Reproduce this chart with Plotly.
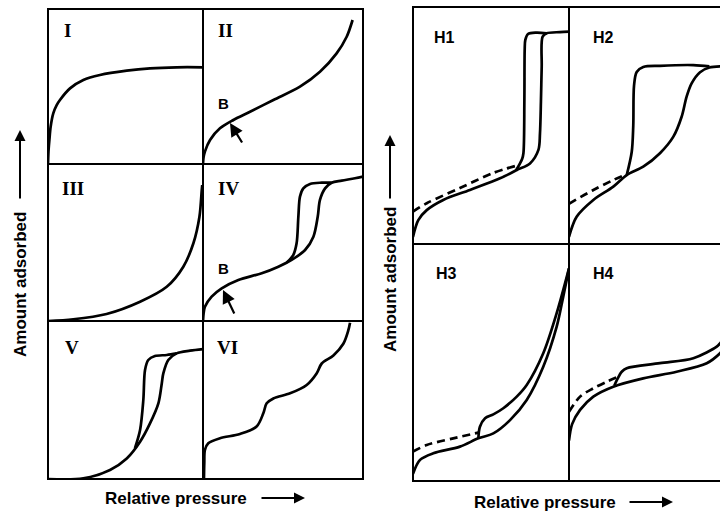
import plotly.graph_objects as go

# ---------------- data (panel-normalised: x = relative pressure, y = amount adsorbed) -------------
I_x = [0, 0.003, 0.009, 0.017, 0.034, 0.056, 0.077, 0.142, 0.228, 0.335, 0.508, 0.658, 0.83, 1.0]
I_y = [0, 0.08, 0.155, 0.24, 0.327, 0.38, 0.413, 0.488, 0.542, 0.574, 0.602, 0.617, 0.624, 0.624]

II_x = [0, 0.003, 0.012, 0.044, 0.106, 0.19, 0.294, 0.44, 0.606, 0.731, 0.835, 0.898, 0.935]
II_y = [0, 0.04, 0.08, 0.155, 0.23, 0.284, 0.337, 0.413, 0.499, 0.595, 0.714, 0.821, 0.929]

III_x = [0, 0.163, 0.378, 0.594, 0.766, 0.873, 0.938, 0.977, 0.992, 0.995]
III_y = [0, 0.011, 0.045, 0.123, 0.218, 0.346, 0.495, 0.664, 0.834, 0.866]

IV_ads_x = [0, 0.004, 0.012, 0.054, 0.117, 0.221, 0.367, 0.471, 0.554, 0.638, 0.69, 0.717, 0.731, 0.763, 0.804, 0.867, 0.95, 1.0]
IV_ads_y = [0, 0.05, 0.091, 0.155, 0.208, 0.261, 0.304, 0.346, 0.389, 0.452, 0.537, 0.664, 0.771, 0.845, 0.881, 0.894, 0.909, 0.92]
IV_des_x = [0.523, 0.564, 0.585, 0.596, 0.606, 0.627, 0.669, 0.742, 0.804]
IV_des_y = [0.373, 0.42, 0.495, 0.664, 0.792, 0.845, 0.873, 0.881, 0.881]

V_ads_x = [0, 0.228, 0.4, 0.508, 0.594, 0.658, 0.712, 0.734, 0.744, 0.776, 0.83, 0.916, 1.0]
V_ads_y = [0, 0.004, 0.057, 0.13, 0.236, 0.352, 0.479, 0.605, 0.668, 0.753, 0.795, 0.812, 0.822]
V_des_x = [0.561, 0.594, 0.615, 0.626, 0.647, 0.69, 0.766, 0.83]
V_des_y = [0.195, 0.31, 0.5, 0.69, 0.753, 0.778, 0.785, 0.795]

VI_x = [0.006, 0.008, 0.012, 0.033, 0.106, 0.231, 0.335, 0.377, 0.398, 0.44, 0.544, 0.648, 0.71, 0.742, 0.815, 0.877, 0.908, 0.919]
VI_y = [0, 0.1, 0.184, 0.226, 0.258, 0.285, 0.332, 0.416, 0.479, 0.51, 0.542, 0.595, 0.668, 0.731, 0.782, 0.856, 0.94, 0.989]

H1_ads_x = [0, 0.034, 0.088, 0.194, 0.365, 0.558, 0.665, 0.75, 0.804, 0.814, 0.82, 0.825, 0.831, 0.857, 0.942, 1.0]
H1_ads_y = [0.03, 0.101, 0.143, 0.186, 0.228, 0.277, 0.312, 0.34, 0.397, 0.467, 0.6, 0.748, 0.875, 0.889, 0.894, 0.896]
H1_des_x = [0.66, 0.7, 0.708, 0.714, 0.716, 0.72, 0.737, 0.79, 0.857]
H1_des_y = [0.31, 0.36, 0.384, 0.608, 0.82, 0.861, 0.886, 0.892, 0.889]
H1_dash_x = [0, 0.088, 0.301, 0.515, 0.66]
H1_dash_y = [0.137, 0.172, 0.236, 0.3, 0.33]

H2_ads_x = [0, 0.049, 0.156, 0.284, 0.37, 0.476, 0.583, 0.669, 0.722, 0.754, 0.786, 0.84, 0.9, 1.0]
H2_ads_y = [0.03, 0.115, 0.186, 0.242, 0.291, 0.326, 0.383, 0.453, 0.537, 0.622, 0.678, 0.725, 0.745, 0.75]
H2_des_x = [0.37, 0.402, 0.412, 0.417, 0.434, 0.476, 0.583, 0.797, 0.9]
H2_des_y = [0.291, 0.388, 0.5, 0.669, 0.726, 0.747, 0.752, 0.755, 0.75]
H2_dash_x = [0, 0.156, 0.284, 0.37]
H2_dash_y = [0.17, 0.228, 0.27, 0.295]

H3_ads_x = [0, 0.045, 0.13, 0.301, 0.419, 0.515, 0.622, 0.729, 0.835, 0.921, 0.963, 1.0]
H3_ads_y = [0.03, 0.089, 0.117, 0.145, 0.18, 0.201, 0.257, 0.342, 0.482, 0.651, 0.778, 0.897]
H3_des_x = [0.419, 0.429, 0.462, 0.515, 0.579, 0.665, 0.729, 0.835, 0.921, 1.0]
H3_des_y = [0.18, 0.229, 0.265, 0.281, 0.307, 0.356, 0.405, 0.539, 0.708, 0.897]
H3_dash_x = [0, 0.088, 0.258, 0.419]
H3_dash_y = [0.124, 0.152, 0.18, 0.204]

H4_ads_x = [0, 0.02, 0.071, 0.156, 0.284, 0.476, 0.69, 0.883, 0.968, 1.0]
H4_ads_y = [0.17, 0.24, 0.3, 0.356, 0.398, 0.433, 0.461, 0.497, 0.539, 0.565]
H4_des_x = [0.29, 0.31, 0.338, 0.37, 0.583, 0.797, 0.947, 0.968, 1.0]
H4_des_y = [0.402, 0.43, 0.461, 0.476, 0.497, 0.518, 0.567, 0.581, 0.61]
H4_dash_x = [0, 0.071, 0.156, 0.242, 0.316]
H4_dash_y = [0.292, 0.356, 0.391, 0.419, 0.44]

# ---------------- layout geometry (pixels) ----------------
W, H = 720, 514
# name: (left, right, top, bottom)
panels = {
    "I":   (48, 203, 9, 164),
    "II":  (203, 363, 9, 164),
    "III": (48, 203, 164, 321),
    "IV":  (203, 363, 164, 321),
    "V":   (48, 203, 321, 479),
    "VI":  (203, 363, 321, 479),
    "H1":  (413, 569, 7, 244),
    "H2":  (569, 725, 7, 244),
    "H3":  (413, 569, 244, 481),
    "H4":  (569, 725, 244, 481),
}
order = list(panels.keys())

fig = go.Figure()
layout = dict(width=W, height=H, margin=dict(l=0, r=0, t=0, b=0),
              plot_bgcolor="white", paper_bgcolor="white", showlegend=False,
              hovermode=False)
shapes = []
axid = {}
for i, name in enumerate(order, start=1):
    l, r, t, b = panels[name]
    rr = min(r, W)
    xr = [0, (rr - l) / (r - l)]
    sfx = "" if i == 1 else str(i)
    axid[name] = ("x" + sfx, "y" + sfx)
    common = dict(showgrid=False, zeroline=False, showticklabels=False, ticks="",
                  showline=False, fixedrange=True)
    layout["xaxis" + sfx] = dict(domain=[l / W, rr / W], range=xr, anchor="y" + sfx, **common)
    layout["yaxis" + sfx] = dict(domain=[1 - b / H, 1 - t / H], range=[0, 1], anchor="x" + sfx, **common)
    shapes.append(dict(type="rect", xref="x" + sfx + " domain", yref="y" + sfx + " domain",
                       x0=0, x1=(r - l) / (rr - l), y0=0, y1=1,
                       line=dict(color="black", width=2), layer="above"))
layout["shapes"] = shapes

LW = 2.7


def add(name, x, y, dash=None):
    xa, ya = axid[name]
    fig.add_trace(go.Scatter(x=x, y=y, mode="lines", xaxis=xa, yaxis=ya,
                             line=dict(color="black", width=LW, shape="spline", smoothing=0.9,
                                       dash=dash if dash else "solid"),
                             hoverinfo="skip"))


add("I", I_x, I_y)
add("II", II_x, II_y)
add("III", III_x, III_y)
add("IV", IV_ads_x, IV_ads_y)
add("IV", IV_des_x, IV_des_y)
add("V", V_ads_x, V_ads_y)
add("V", V_des_x, V_des_y)
add("VI", VI_x, VI_y)
DASH = "8px,5px"
add("H1", H1_ads_x, H1_ads_y)
add("H1", H1_des_x, H1_des_y)
add("H1", H1_dash_x, H1_dash_y, DASH)
add("H2", H2_ads_x, H2_ads_y)
add("H2", H2_des_x, H2_des_y)
add("H2", H2_dash_x, H2_dash_y, DASH)
add("H3", H3_ads_x, H3_ads_y)
add("H3", H3_des_x, H3_des_y)
add("H3", H3_dash_x, H3_dash_y, DASH)
add("H4", H4_ads_x, H4_ads_y)
add("H4", H4_des_x, H4_des_y)
add("H4", H4_dash_x, H4_dash_y, DASH)

SANS = "Liberation Sans, Arial, sans-serif"
SERIF = "Liberation Serif, Times New Roman, serif"
ann = []


def label(name, text, px, py, font, size, bold=True):
    xa, ya = axid[name]
    l, r, t, b = panels[name]
    txt = "<b>" + text + "</b>" if bold else text
    ann.append(dict(xref=xa, yref=ya, x=(px - l) / (r - l), y=(b - py) / (b - t), text=txt,
                    showarrow=False, font=dict(family=font, size=size, color="black"),
                    xanchor="center", yanchor="middle"))


# roman numerals
label("I", "I", 67, 30, SERIF, 19)
label("II", "II", 225, 30, SERIF, 19)
label("III", "III", 73, 188, SERIF, 19)
label("IV", "IV", 228, 188, SERIF, 19)
label("V", "V", 72, 347, SERIF, 19)
label("VI", "VI", 227, 347, SERIF, 19)
# H labels
label("H1", "H1", 444, 38, SANS, 16)
label("H2", "H2", 603, 38, SANS, 16)
label("H3", "H3", 446, 273, SANS, 16)
label("H4", "H4", 603, 273, SANS, 16)
# point B
label("II", "B", 223, 103, SANS, 15)
label("IV", "B", 223, 268, SANS, 15)


def arrow_px(name, tipx, tipy, tailx, taily):
    xa, ya = axid[name]
    l, r, t, b = panels[name]
    ann.append(dict(xref=xa, yref=ya, x=(tipx - l) / (r - l), y=(b - tipy) / (b - t),
                    ax=tailx - tipx, ay=taily - tipy, text="", showarrow=True,
                    arrowhead=2, arrowsize=1.2, arrowwidth=2.2, arrowcolor="black"))


arrow_px("II", 230, 123, 243, 144)
arrow_px("IV", 223, 290, 235, 315)

AX = dict(family=SANS, size=17, color="black")
# axis titles
ann.append(dict(xref="paper", yref="paper", x=176 / W, y=1 - 498 / H, text="<b>Relative pressure</b>",
                showarrow=False, font=AX, xanchor="center", yanchor="middle"))
ann.append(dict(xref="paper", yref="paper", x=545 / W, y=1 - 502 / H, text="<b>Relative pressure</b>",
                showarrow=False, font=AX, xanchor="center", yanchor="middle"))
ann.append(dict(xref="paper", yref="paper", x=20 / W, y=1 - 285 / H, text="<b>Amount adsorbed</b>",
                showarrow=False, font=AX, textangle=-90, xanchor="center", yanchor="middle"))
ann.append(dict(xref="paper", yref="paper", x=390 / W, y=1 - 280 / H, text="<b>Amount adsorbed</b>",
                showarrow=False, font=AX, textangle=-90, xanchor="center", yanchor="middle"))
# axis arrows
for tipx, tipy, dx, dy in [(305, 498, -45, 0), (673, 502, -45, 0), (20, 130, 0, 70), (390, 135, 0, 65)]:
    ann.append(dict(xref="paper", yref="paper", x=tipx / W, y=1 - tipy / H, ax=dx, ay=dy, text="",
                    showarrow=True, arrowhead=2, arrowsize=1.1, arrowwidth=2, arrowcolor="black"))

layout["annotations"] = ann
fig.update_layout(**layout)
fig.write_html("out.html", config={"displayModeBar": False},
               post_script="document.body.style.margin='0';")
